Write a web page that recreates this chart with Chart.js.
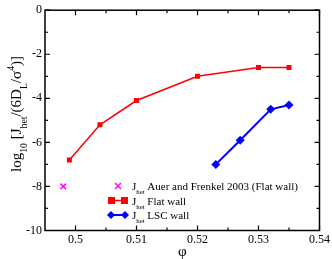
<!DOCTYPE html>
<html><head><meta charset="utf-8">
<script src="https://cdn.jsdelivr.net/npm/chart.js@4/dist/chart.umd.min.js"></script>
<style>html,body{margin:0;padding:0;background:#fff}#wrap{width:332px;height:259px}</style>
</head><body><div id="wrap"><canvas id="c" width="332" height="259"></canvas></div>
<script>
const flatPhi = [0.499, 0.504, 0.51, 0.52, 0.53, 0.535];
const flatJ = [-6.8, -5.2, -4.1, -3.0, -2.6, -2.6];
const lscPhi = [0.523, 0.527, 0.532, 0.535];
const lscJ = [-7.0, -5.9, -4.5, -4.3];
const auerPhi = [0.498];
const auerJ = [-8.0];
const xTicks = [0.5, 0.51, 0.52, 0.53, 0.54];
const yTicks = [0, -2, -4, -6, -8, -10];
const xMinor = [0.505, 0.515, 0.525, 0.535];
const yMinor = [-1, -3, -5, -7, -9];

const FONT = '"Liberation Serif", "DejaVu Serif", serif';
const toPts = (xs, ys) => xs.map((x, i) => ({x, y: ys[i]}));

function runsWidth(ctx, runs, size, subScale) {
  let w = 0;
  runs.forEach(r => {
    ctx.font = (r.s ? size * subScale : size) + 'px ' + FONT;
    w += ctx.measureText(r.t).width;
  });
  return w;
}
function drawRuns(ctx, runs, x, y, size, subScale) {
  let cx = x;
  ctx.textAlign = 'left';
  ctx.textBaseline = 'alphabetic';
  runs.forEach(r => {
    const s = r.s ? size * subScale : size;
    ctx.font = s + 'px ' + FONT;
    const dy = r.s === 1 ? size * 0.38 : (r.s === -1 ? -size * 0.5 : 0);
    ctx.fillText(r.t, cx, y + dy);
    cx += ctx.measureText(r.t).width;
  });
}

const decor = {
  id: 'decor',
  beforeDraw(chart) {
    const ctx = chart.ctx;
    ctx.save();
    ctx.fillStyle = '#fff';
    ctx.fillRect(0, 0, chart.width, chart.height);
    ctx.restore();
  },
  afterDraw(chart) {
    const ctx = chart.ctx;
    const a = chart.chartArea;
    const xs = chart.scales.x, ys = chart.scales.y;
    ctx.save();
    ctx.strokeStyle = '#000';
    ctx.lineWidth = 1.5;
    ctx.strokeRect(a.left, a.top, a.right - a.left, a.bottom - a.top);
    ctx.lineWidth = 1.2;
    ctx.beginPath();
    const tick = (vals, len) => {
      vals.forEach(v => {
        const px = xs.getPixelForValue(v);
        ctx.moveTo(px, a.bottom); ctx.lineTo(px, a.bottom - len);
        ctx.moveTo(px, a.top); ctx.lineTo(px, a.top + len);
      });
    };
    const ytick = (vals, len) => {
      vals.forEach(v => {
        const py = ys.getPixelForValue(v);
        ctx.moveTo(a.left, py); ctx.lineTo(a.left + len, py);
        ctx.moveTo(a.right, py); ctx.lineTo(a.right - len, py);
      });
    };
    tick(xTicks, 5); tick(xMinor, 3);
    ytick(yTicks, 5); ytick(yMinor, 3);
    ctx.stroke();

    // axis titles
    ctx.fillStyle = '#000';
    ctx.font = '15px ' + FONT;
    ctx.textAlign = 'center';
    ctx.textBaseline = 'alphabetic';
    ctx.fillText('\u03C6', (a.left + a.right) / 2, 256);
    ctx.save();
    ctx.translate(21, 114);
    ctx.rotate(-Math.PI / 2);
    const yRuns = [
      {t: 'log'}, {t: '10', s: 1}, {t: ' [J'}, {t: 'het', s: 1},
      {t: '/(6D'}, {t: 'L', s: 1}, {t: '/\u03C3'}, {t: '4', s: -1}, {t: ')]'}
    ];
    const w = runsWidth(ctx, yRuns, 15, 0.65);
    drawRuns(ctx, yRuns, -w / 2, 0, 15, 0.65);
    ctx.restore();

    // legend
    const rows = [
      {y: 186, text: ' Auer and Frenkel 2003 (Flat wall)', kind: 'auer'},
      {y: 200.5, text: ' Flat wall', kind: 'flat'},
      {y: 215, text: ' LSC wall', kind: 'lsc'}
    ];
    rows.forEach(r => {
      ctx.save();
      if (r.kind === 'auer') {
        ctx.strokeStyle = '#ff00ff'; ctx.lineWidth = 1.5;
        ctx.beginPath();
        const cx = 118, cy = r.y, d = 3;
        ctx.moveTo(cx - d, cy - d); ctx.lineTo(cx + d, cy + d);
        ctx.moveTo(cx + d, cy - d); ctx.lineTo(cx - d, cy + d);
        ctx.stroke();
      } else if (r.kind === 'flat') {
        ctx.strokeStyle = '#ff0000'; ctx.fillStyle = '#ff0000'; ctx.lineWidth = 1.5;
        ctx.beginPath(); ctx.moveTo(111, r.y); ctx.lineTo(125, r.y); ctx.stroke();
        ctx.fillRect(108, r.y - 3.5, 7, 7);
        ctx.fillRect(121, r.y - 3.5, 7, 7);
      } else {
        ctx.strokeStyle = '#0000ff'; ctx.fillStyle = '#0000ff'; ctx.lineWidth = 2;
        ctx.beginPath(); ctx.moveTo(111, r.y); ctx.lineTo(125, r.y); ctx.stroke();
        [111, 125].forEach(cx => {
          ctx.beginPath();
          ctx.moveTo(cx, r.y - 4); ctx.lineTo(cx + 4, r.y);
          ctx.lineTo(cx, r.y + 4); ctx.lineTo(cx - 4, r.y); ctx.closePath(); ctx.fill();
        });
      }
      ctx.restore();
      ctx.fillStyle = '#000';
      drawRuns(ctx, [{t: 'J'}, {t: 'het', s: 1}, {t: r.text}], 132, r.y + 4, 11, 0.62);
    });
    ctx.restore();
  }
};

new Chart(document.getElementById('c'), {
  type: 'scatter',
  data: {
    datasets: [
      {data: toPts(auerPhi, auerJ), pointStyle: 'crossRot', radius: 4, borderColor: '#ff00ff', backgroundColor: '#ff00ff', borderWidth: 1.5, showLine: false},
      {data: toPts(flatPhi, flatJ), pointStyle: 'rect', radius: 3.5, borderColor: '#ff0000', backgroundColor: '#ff0000', borderWidth: 1.5, showLine: true, pointBorderWidth: 0},
      {data: toPts(lscPhi, lscJ), pointStyle: 'rectRot', radius: 4.5, borderColor: '#0000ff', backgroundColor: '#0000ff', borderWidth: 2, showLine: true, pointBorderWidth: 0}
    ]
  },
  options: {
    responsive: false, animation: false,
    layout: {padding: {top: 5, right: 11, left: 0, bottom: 0}},
    plugins: {legend: {display: false}, tooltip: {enabled: false}},
    scales: {
      x: {
        type: 'linear', min: 0.495, max: 0.54,
        afterBuildTicks: s => { s.ticks = xTicks.map(v => ({value: v})); },
        afterFit: s => { s.height = 28.5; },
        ticks: {color: '#000', padding: 2, font: {family: FONT, size: 12}, maxRotation: 0,
          callback: v => String(+v.toFixed(3))},
        grid: {display: false, drawTicks: false}, border: {display: false}
      },
      y: {
        type: 'linear', min: -10, max: 0,
        afterBuildTicks: s => { s.ticks = yTicks.map(v => ({value: v})); },
        afterFit: s => { s.width = 45; },
        ticks: {color: '#000', padding: 3, font: {family: FONT, size: 12}},
        grid: {display: false, drawTicks: false}, border: {display: false}
      }
    }
  },
  plugins: [decor]
});
</script></body></html>
